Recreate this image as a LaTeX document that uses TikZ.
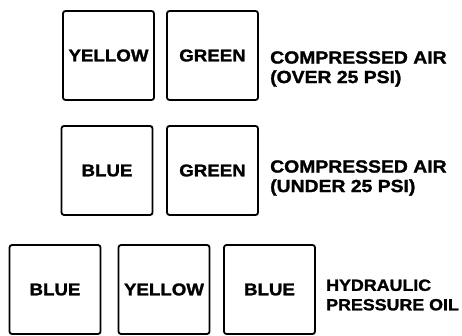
\documentclass[tikz,border=0pt]{standalone}
\usepackage{fontspec}
\setmainfont{Liberation Sans}
\newfontfamily\platefont[FakeStretch=1.1, BoldFeatures={FakeBold=1.5}]{Liberation Sans}
\usepackage{tikz}
\usetikzlibrary{positioning}

\begin{document}
\begin{tikzpicture}[x=1pt, y=-1pt,
          tag/.style={rectangle, draw=black, line width=1.8pt, rounded corners=2.5pt,
                      minimum width=91pt, minimum height=89pt, inner sep=0pt,
                      font=\platefont\bfseries\fontsize{17}{19}\selectfont},
          legend/.style={anchor=west, align=left, inner sep=0pt,
                         font=\platefont\bfseries\fontsize{17.6}{19.5}\selectfont}
        ]
        \useasboundingbox (0,0) rectangle (462,336);

        % Compressed air, over 25 psi
        \node[tag] (ay) at (108.5, 55.5) {YELLOW};
        \node[tag] (ag) at (212.5, 55.5) {GREEN};
        \node[legend] (al) at (270, 69) {COMPRESSED AIR\\(OVER 25 PSI)};

        % Compressed air, under 25 psi
        \node[tag] (bb) at (107, 170.5) {BLUE};
        \node[tag] (bg) at (212.5, 170.5) {GREEN};
        \node[legend] (bl) at (270, 178) {COMPRESSED AIR\\(UNDER 25 PSI)};

        % Hydraulic pressure oil
        \node[tag] (cb1) at (55, 289.5) {BLUE};
        \node[tag] (cy) at (164, 289.5) {YELLOW};
        \node[tag] (cb2) at (269.5, 289.5) {BLUE};
        \node[legend, font=\platefont\bfseries\fontsize{16.2}{19.5}\selectfont]
              (cl) at (326, 295) {HYDRAULIC\\PRESSURE OIL};
      \end{tikzpicture}
\end{document}
